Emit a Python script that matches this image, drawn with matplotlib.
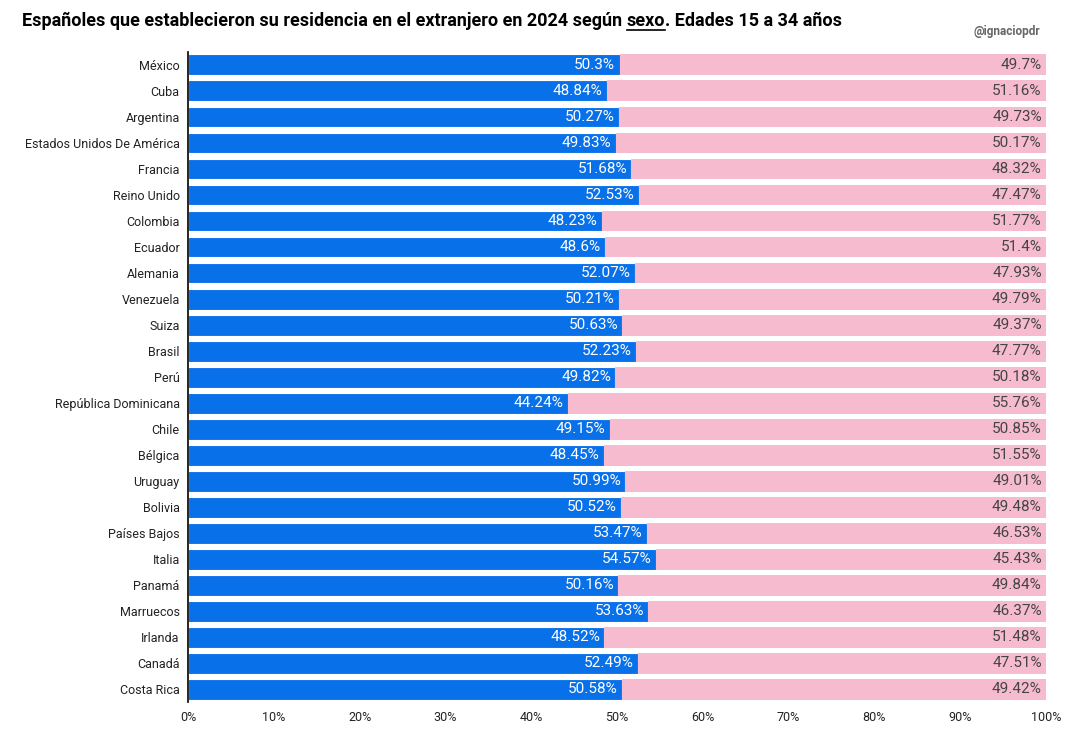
import numpy as np
import matplotlib
matplotlib.use("Agg")
import matplotlib.pyplot as plt

plt.rcParams['font.family'] = ['Roboto', 'DejaVu Sans']

countries = ['México', 'Cuba', 'Argentina', 'Estados Unidos De América', 'Francia',
             'Reino Unido', 'Colombia', 'Ecuador', 'Alemania', 'Venezuela', 'Suiza',
             'Brasil', 'Perú', 'República Dominicana', 'Chile', 'Bélgica', 'Uruguay',
             'Bolivia', 'Países Bajos', 'Italia', 'Panamá', 'Marruecos', 'Irlanda',
             'Canadá', 'Costa Rica']
hombres = [50.3, 48.84, 50.27, 49.83, 51.68, 52.53, 48.23, 48.6, 52.07, 50.21, 50.63,
           52.23, 49.82, 44.24, 49.15, 48.45, 50.99, 50.52, 53.47, 54.57, 50.16, 53.63,
           48.52, 52.49, 50.58]
mujeres = [49.7, 51.16, 49.73, 50.17, 48.32, 47.47, 51.77, 51.4, 47.93, 49.79, 49.37,
           47.77, 50.18, 55.76, 50.85, 51.55, 49.01, 49.48, 46.53, 45.43, 49.84, 46.37,
           51.48, 47.51, 49.42]

blue = '#0871EA'
pink = '#F7BBD0'

fig = plt.figure(figsize=(10.79, 7.41), dpi=100)
ax = fig.add_axes([0.1742, 0.052, 0.7952, 0.878])

y = np.arange(len(countries))
ax.barh(y, hombres, height=0.8, color=blue, edgecolor='white', linewidth=0.8)
ax.barh(y, mujeres, left=hombres, height=0.8, color=pink, edgecolor='none')

for i in range(len(countries)):
    ax.text(hombres[i] - 0.5, y[i], f'{hombres[i]:g}%', ha='right', va='center',
            color='white', fontsize=11)
    ax.text(99.5, y[i], f'{mujeres[i]:g}%', ha='right', va='center',
            color='#444444', fontsize=11)

ax.set_xlim(0, 100)
ax.set_ylim(len(countries) - 0.5, -0.5)
ax.set_yticks(y)
ax.set_yticklabels(countries, fontsize=9, color='#222222')
ax.set_xticks(np.arange(0, 101, 10))
ax.set_xticklabels([f'{v}%' for v in range(0, 101, 10)], fontsize=9, color='#222222')
ax.tick_params(length=0, pad=6)
for s in ['top', 'right', 'bottom']:
    ax.spines[s].set_visible(False)
ax.spines['left'].set_color('black')
ax.spines['left'].set_linewidth(1.2)

# title in pieces so that "sexo" can be underlined
fig.canvas.draw()
r = fig.canvas.get_renderer()
x0 = 22 / 1079
ty = 1 - 21 / 741
parts = ['Españoles que establecieron su residencia en el extranjero en 2024 según ', 'sexo',
         '. Edades 15 a 34 años']
xx = x0
for k, p in enumerate(parts):
    t = fig.text(xx, ty, p, fontsize=13, fontweight='bold', ha='left', va='center',
                 color='black')
    bb = t.get_window_extent(renderer=r)
    if k == 1:
        fig.add_artist(plt.Line2D([bb.x0 / 1079, bb.x1 / 1079],
                                  [bb.y0 / 741, bb.y0 / 741],
                                  color='black', linewidth=1.2))
    xx = bb.x1 / 1079

fig.text(1040 / 1079, 1 - 31 / 741, '@ignaciopdr', fontsize=8.5, fontweight='bold',
         color='#666666', ha='right', va='center')

fig.savefig('out.png', dpi=100)
